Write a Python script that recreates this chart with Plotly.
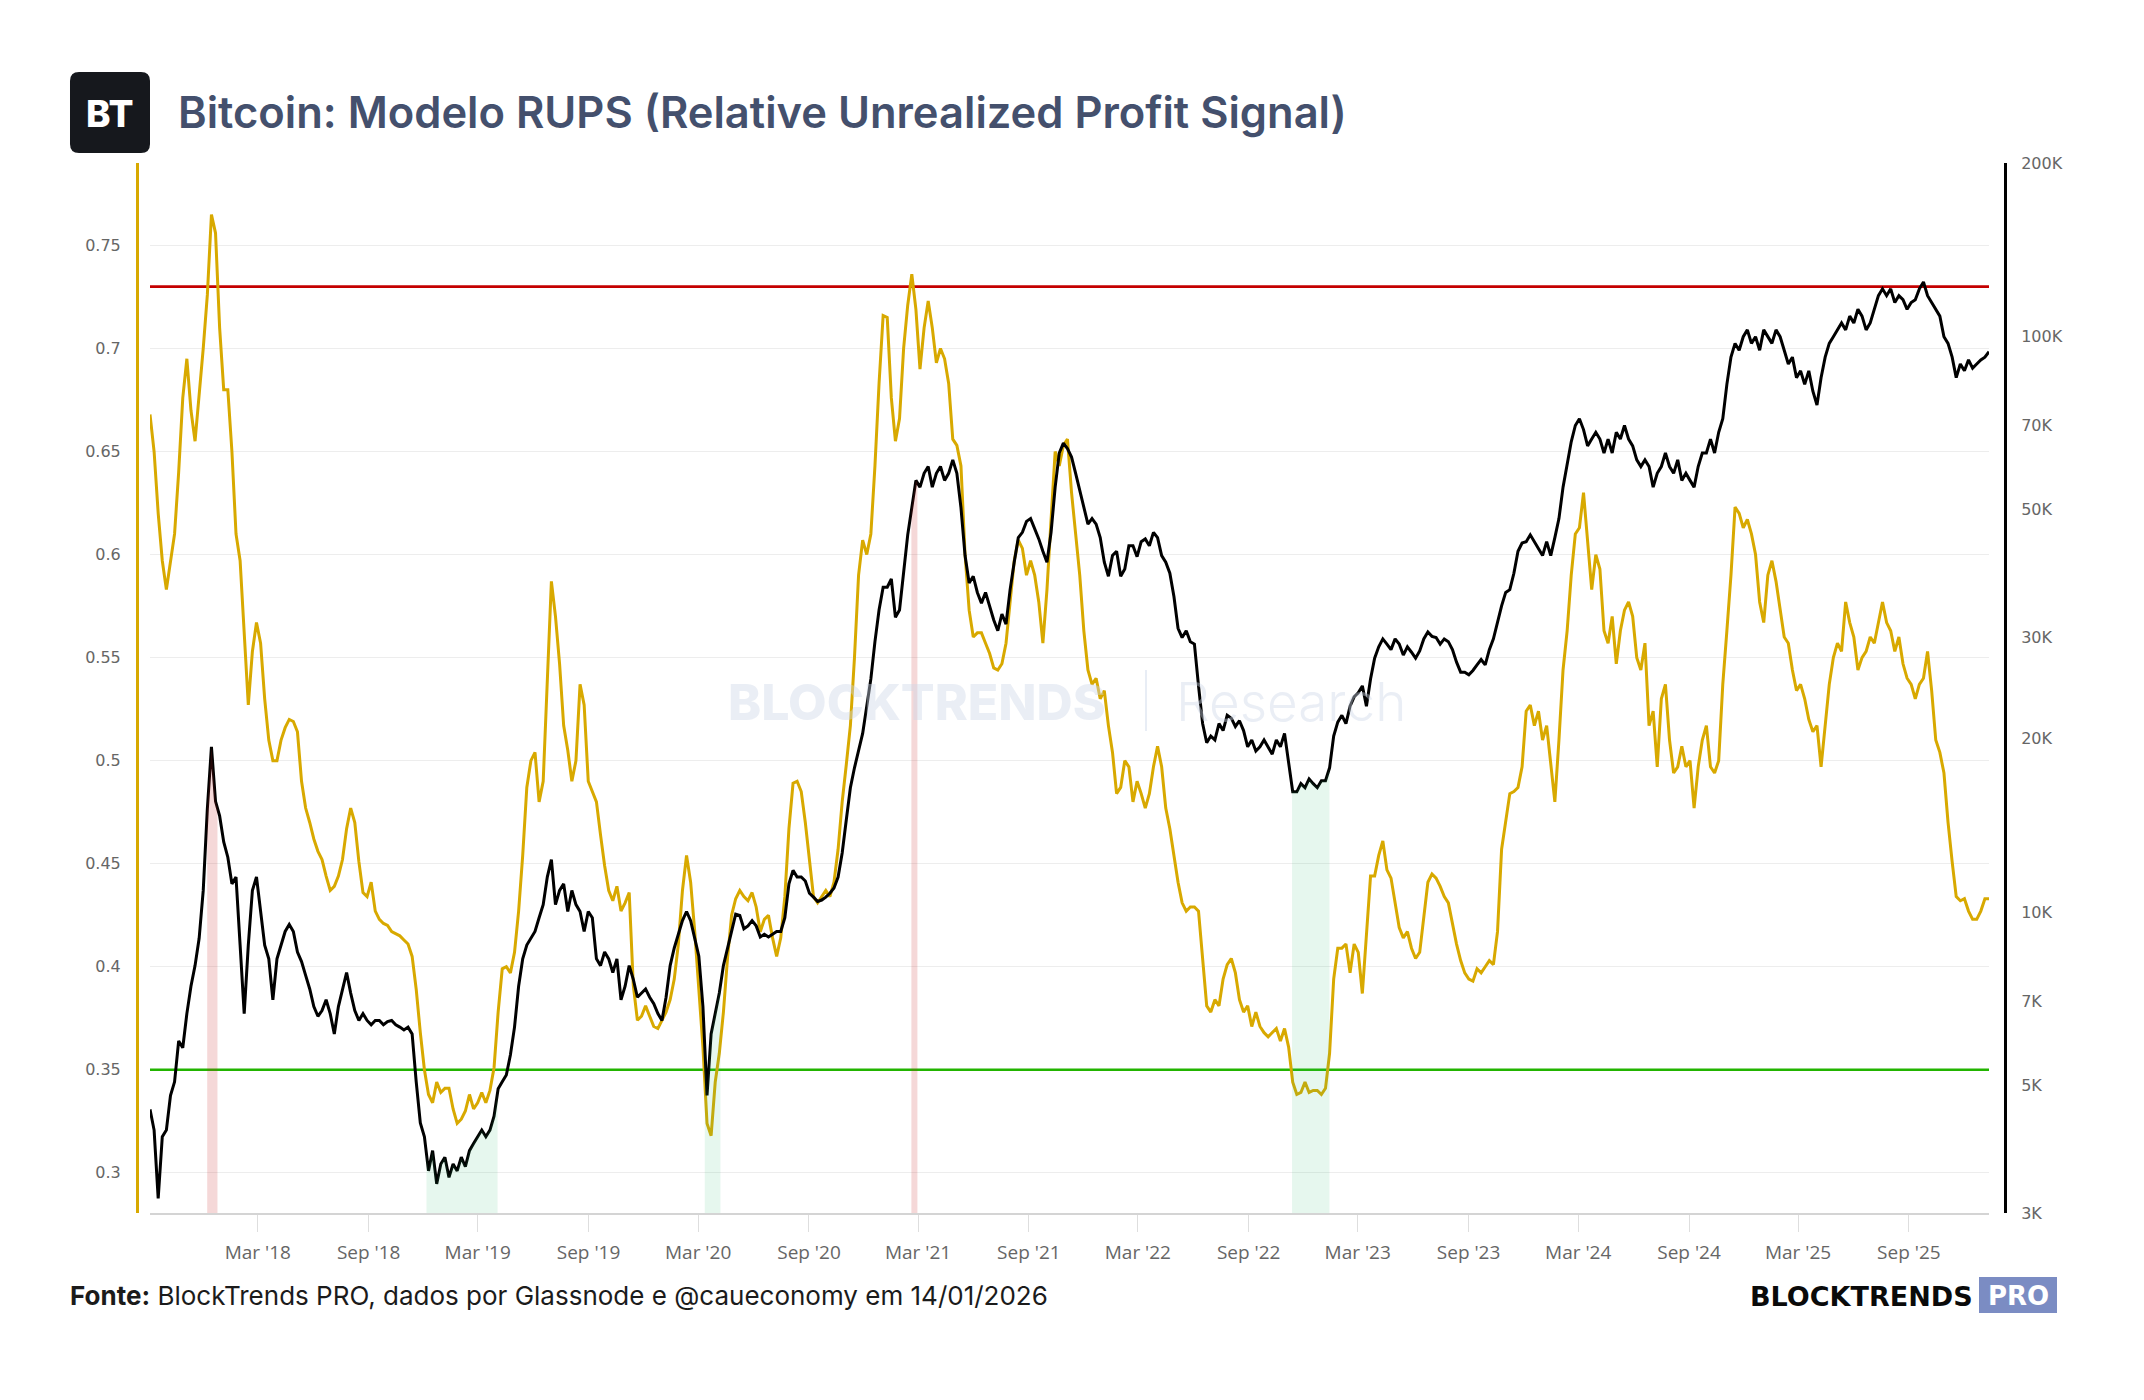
import numpy as np
import pandas as pd
import plotly.graph_objects as go

W, H = 2144, 1400

# ---------------- data ----------------
DATE_START = "2017-09-03"
DATE_END = "2026-01-12"

# Relative Unrealized Profit Signal (left axis), evenly sampled from DATE_START to DATE_END
RUPS = [
    0.668, 0.650, 0.620, 0.597, 0.583, 0.597, 0.610, 0.640, 0.676, 0.695,
    0.670, 0.655, 0.676, 0.700, 0.726, 0.765, 0.756, 0.710, 0.680, 0.680,
    0.650, 0.610, 0.597, 0.560, 0.527, 0.553, 0.567, 0.557, 0.530, 0.510,
    0.500, 0.500, 0.510, 0.516, 0.520, 0.519, 0.514, 0.490, 0.477, 0.470,
    0.462, 0.456, 0.452, 0.444, 0.437, 0.439, 0.444, 0.452, 0.467, 0.477,
    0.470, 0.451, 0.436, 0.434, 0.441, 0.427, 0.423, 0.421, 0.420, 0.417,
    0.416, 0.415, 0.413, 0.411, 0.405, 0.389, 0.368, 0.350, 0.338, 0.334,
    0.344, 0.339, 0.341, 0.341, 0.331, 0.324, 0.326, 0.330, 0.338, 0.331,
    0.334, 0.339, 0.334, 0.340, 0.351, 0.378, 0.399, 0.400, 0.397, 0.407,
    0.427, 0.454, 0.487, 0.500, 0.504, 0.480, 0.490, 0.537, 0.587, 0.570,
    0.547, 0.517, 0.505, 0.490, 0.500, 0.537, 0.527, 0.490, 0.485, 0.480,
    0.464, 0.449, 0.437, 0.432, 0.439, 0.427, 0.431, 0.436, 0.391, 0.374,
    0.376, 0.381, 0.376, 0.371, 0.370, 0.374, 0.378, 0.384, 0.394, 0.411,
    0.437, 0.454, 0.441, 0.417, 0.391, 0.361, 0.324, 0.318, 0.344, 0.358,
    0.378, 0.404, 0.425, 0.433, 0.437, 0.434, 0.432, 0.436, 0.429, 0.417,
    0.423, 0.425, 0.414, 0.405, 0.414, 0.434, 0.467, 0.489, 0.490, 0.485,
    0.470, 0.452, 0.434, 0.431, 0.434, 0.437, 0.434, 0.441, 0.457, 0.480,
    0.498, 0.517, 0.550, 0.590, 0.607, 0.600, 0.610, 0.643, 0.683, 0.716,
    0.715, 0.676, 0.655, 0.666, 0.700, 0.721, 0.736, 0.719, 0.690, 0.710,
    0.723, 0.710, 0.693, 0.700, 0.695, 0.683, 0.656, 0.653, 0.643, 0.600,
    0.573, 0.560, 0.562, 0.562, 0.557, 0.552, 0.545, 0.544, 0.547, 0.557,
    0.577, 0.597, 0.607, 0.603, 0.590, 0.597, 0.590, 0.577, 0.557, 0.583,
    0.617, 0.650, 0.643, 0.653, 0.656, 0.630, 0.610, 0.590, 0.563, 0.544,
    0.537, 0.540, 0.530, 0.534, 0.517, 0.504, 0.484, 0.487, 0.500, 0.497,
    0.480, 0.490, 0.484, 0.477, 0.484, 0.497, 0.507, 0.497, 0.477, 0.467,
    0.454, 0.441, 0.431, 0.427, 0.429, 0.429, 0.427, 0.404, 0.381, 0.378,
    0.384, 0.381, 0.394, 0.401, 0.404, 0.397, 0.384, 0.378, 0.381, 0.371,
    0.378, 0.371, 0.368, 0.366, 0.368, 0.370, 0.364, 0.370, 0.361, 0.344,
    0.338, 0.339, 0.344, 0.339, 0.340, 0.340, 0.338, 0.341, 0.358, 0.394,
    0.409, 0.409, 0.411, 0.397, 0.411, 0.407, 0.387, 0.417, 0.444, 0.444,
    0.454, 0.461, 0.447, 0.443, 0.431, 0.419, 0.414, 0.417, 0.409, 0.404,
    0.407, 0.423, 0.441, 0.445, 0.443, 0.439, 0.434, 0.431, 0.421, 0.411,
    0.403, 0.397, 0.394, 0.393, 0.399, 0.397, 0.400, 0.403, 0.401, 0.417,
    0.457, 0.470, 0.484, 0.485, 0.487, 0.497, 0.524, 0.527, 0.517, 0.524,
    0.510, 0.517, 0.500, 0.480, 0.510, 0.544, 0.563, 0.590, 0.610, 0.613,
    0.630, 0.607, 0.583, 0.600, 0.593, 0.563, 0.557, 0.570, 0.547, 0.563,
    0.573, 0.577, 0.570, 0.550, 0.544, 0.557, 0.517, 0.524, 0.497, 0.530,
    0.537, 0.510, 0.494, 0.497, 0.507, 0.497, 0.500, 0.477, 0.497, 0.510,
    0.517, 0.497, 0.494, 0.500, 0.537, 0.563, 0.590, 0.623, 0.620, 0.613,
    0.617, 0.610, 0.600, 0.577, 0.567, 0.590, 0.597, 0.587, 0.573, 0.560,
    0.557, 0.544, 0.534, 0.537, 0.530, 0.520, 0.514, 0.517, 0.497, 0.517,
    0.537, 0.550, 0.557, 0.553, 0.577, 0.567, 0.560, 0.544, 0.550, 0.553,
    0.560, 0.557, 0.567, 0.577, 0.567, 0.563, 0.553, 0.560, 0.547, 0.540,
    0.537, 0.530, 0.537, 0.540, 0.553, 0.534, 0.510, 0.504, 0.494, 0.470,
    0.451, 0.434, 0.432, 0.433, 0.427, 0.423, 0.423, 0.427, 0.433, 0.433,
]

# Bitcoin price in USD (right, log axis), same sampling
BTC_PRICE = [
    4540, 4180, 3180, 4070, 4180, 4800, 5070, 5970, 5810, 6660,
    7430, 8070, 9000, 10900, 15100, 19360, 15570, 14690, 13230, 12450,
    11190, 11500, 8760, 6660, 8760, 10900, 11500, 10020, 8760, 8290,
    7040, 8290, 8760, 9250, 9510, 9250, 8520, 8200, 7760, 7350,
    6850, 6590, 6740, 7040, 6660, 6140, 6850, 7350, 7850, 7230,
    6740, 6480, 6660, 6480, 6370, 6480, 6480, 6370, 6450, 6480,
    6370, 6310, 6240, 6310, 6140, 5070, 4300, 4070, 3550, 3850,
    3370, 3650, 3750, 3460, 3650, 3550, 3750, 3610, 3850, 3960,
    4070, 4180, 4070, 4180, 4420, 4930, 5070, 5210, 5650, 6310,
    7430, 8290, 8760, 9000, 9250, 9770, 10300, 11500, 12330, 10300,
    10900, 11190, 10020, 10900, 10300, 10020, 9250, 10020, 9770, 8290,
    8070, 8520, 8290, 7850, 8290, 7040, 7430, 8070, 7640, 7110,
    7230, 7350, 7110, 6930, 6660, 6480, 7110, 8070, 8660, 9150,
    9660, 10020, 9660, 9000, 8380, 6850, 4800, 6140, 6660, 7230,
    8070, 8660, 9350, 9910, 9860, 9350, 9460, 9660, 9460, 9050,
    9150, 9050, 9150, 9250, 9250, 9770, 11190, 11810, 11500, 11500,
    11320, 10780, 10610, 10430, 10490, 10610, 10780, 11010, 11500, 12660,
    14450, 16440, 17800, 19040, 20430, 22770, 25400, 29480, 33470, 36650,
    36650, 37880, 32500, 33470, 38760, 45200, 50400, 56200, 54700, 57800,
    59400, 54700, 57800, 59400, 56200, 57800, 61000, 57800, 50400, 41600,
    37270, 38300, 35900, 34400, 35900, 34020, 32150, 30800, 32930, 31620,
    36300, 40500, 44700, 45650, 47700, 48230, 46410, 44470, 42330, 40500,
    45650, 54700, 62700, 65240, 63810, 61700, 57800, 54090, 50400, 47180,
    48230, 47180, 44700, 40500, 38300, 41600, 42330, 38300, 39410, 43260,
    43260, 41420, 43980, 44470, 43260, 45650, 44700, 41600, 40500, 38760,
    35320, 31100, 29970, 30800, 29480, 29200, 24700, 21250, 19680, 20210,
    19900, 21250, 20660, 21960, 21710, 21000, 21490, 20660, 19360, 19900,
    19040, 19360, 19900, 19360, 18800, 19900, 19360, 20430, 18290, 16170,
    16170, 16710, 16440, 17030, 16710, 16440, 16900, 16900, 17800, 20210,
    21370, 21960, 21250, 22770, 23650, 24030, 24700, 22770, 25400, 27600,
    28880, 29810, 29200, 28560, 29810, 29200, 27940, 28880, 28260, 27600,
    28410, 29810, 30640, 30120, 29970, 29200, 29810, 29480, 28560, 27160,
    26100, 26100, 25820, 26270, 26860, 27450, 26860, 28560, 29810, 31980,
    34020, 35900, 36300, 38760, 42330, 43740, 43980, 45200, 43980, 42800,
    41600, 43980, 41600, 44700, 48230, 54700, 60050, 65570, 70000, 71900,
    68860, 64510, 66300, 68110, 66300, 62700, 66300, 62700, 68110, 66300,
    70000, 66300, 64510, 61000, 59400, 61000, 59400, 54700, 57800, 59400,
    62700, 59400, 57800, 61000, 56200, 57800, 56200, 54700, 59400, 62700,
    62700, 66300, 62700, 68110, 71900, 82500, 92000, 97200, 94570, 99830,
    102600, 97200, 99830, 94570, 102600, 99830, 97200, 102600, 99830, 94570,
    89520, 92000, 84750, 87100, 82500, 87100, 80270, 75990, 84750, 92000,
    97200, 99830, 102600, 105470, 102600, 108400, 105470, 111410, 108400, 102600,
    105470, 111410, 117640, 120900, 117640, 120900, 114500, 117640, 115760, 111410,
    114500, 115760, 120900, 124250, 117640, 114500, 111410, 108400, 99830, 97200,
    92000, 84750, 89520, 87100, 91000, 88060, 89520, 91000, 92000, 94030,
]

TOP_LEVEL = 0.73      # red threshold
BOTTOM_LEVEL = 0.35   # green threshold

RED_PERIODS = [("2017-12-07", "2017-12-24"), ("2021-02-18", "2021-02-28")]
GREEN_PERIODS = [("2018-12-06", "2019-04-03"), ("2020-03-12", "2020-04-07"),
                 ("2022-11-12", "2023-01-13")]

X_TICK_DATES = ["2018-03-01", "2018-09-01", "2019-03-01", "2019-09-01", "2020-03-01",
                "2020-09-01", "2021-03-01", "2021-09-01", "2022-03-01", "2022-09-01",
                "2023-03-01", "2023-09-01", "2024-03-01", "2024-09-01", "2025-03-01",
                "2025-09-01"]
X_TICK_LABELS = ["Mar '18", "Sep '18", "Mar '19", "Sep '19", "Mar '20", "Sep '20",
                 "Mar '21", "Sep '21", "Mar '22", "Sep '22", "Mar '23", "Sep '23",
                 "Mar '24", "Sep '24", "Mar '25", "Sep '25"]

RUPS_TICKS = [0.3, 0.35, 0.4, 0.45, 0.5, 0.55, 0.6, 0.65, 0.7, 0.75]
RUPS_LABELS = ["0.3", "0.35", "0.4", "0.45", "0.5", "0.55", "0.6", "0.65", "0.7", "0.75"]

PRICE_TICKS = [3000, 5000, 7000, 10000, 20000, 30000, 50000, 70000, 100000, 200000]
PRICE_LABELS = ["3K", "5K", "7K", "10K", "20K", "30K", "50K", "70K", "100K", "200K"]

# ---------------- styling / layout constants ----------------
GOLD = "#d8a900"
RUPS_RANGE = [0.2805, 0.790]
PRICE_MIN, PRICE_MAX = 3000, 200000

PLOT_L, PLOT_R = 150, 1989
PLOT_T, PLOT_B = 163, 1213


def px(x):
    return x / W


def py(y):
    return 1 - y / H


rups_dates = pd.date_range(DATE_START, DATE_END, periods=len(RUPS)).round("s")
price_dates = pd.date_range(DATE_START, DATE_END, periods=len(BTC_PRICE)).round("s")
prices = np.array(BTC_PRICE, dtype=float)

fig = go.Figure()

# threshold lines (drawn first so they sit under the series)
fig.add_trace(go.Scatter(x=[DATE_START, DATE_END], y=[TOP_LEVEL, TOP_LEVEL], mode="lines",
                         yaxis="y", line=dict(color="#c40000", width=2.6), hoverinfo="skip"))
fig.add_trace(go.Scatter(x=[DATE_START, DATE_END], y=[BOTTOM_LEVEL, BOTTOM_LEVEL], mode="lines",
                         yaxis="y", line=dict(color="#22b400", width=2.6), hoverinfo="skip"))

fig.add_trace(go.Scatter(x=rups_dates, y=RUPS, mode="lines", yaxis="y",
                         line=dict(color=GOLD, width=3), hoverinfo="skip"))
fig.add_trace(go.Scatter(x=price_dates, y=prices, mode="lines", yaxis="y2",
                         line=dict(color="#000000", width=3), hoverinfo="skip"))


def band_trace(start, end, color):
    s, e = pd.Timestamp(start), pd.Timestamp(end)
    t = price_dates.asi8.astype(float)
    logp = np.log10(prices)
    ps = 10 ** np.interp(float(s.value), t, logp)
    pe = 10 ** np.interp(float(e.value), t, logp)
    mask = (price_dates > s) & (price_dates < e)
    xs = [s] + list(price_dates[mask]) + [e, e, s]
    ys = [ps] + list(prices[mask]) + [pe, PRICE_MIN, PRICE_MIN]
    return go.Scatter(x=xs, y=ys, yaxis="y2", mode="lines", fill="toself",
                      fillcolor=color, line=dict(width=0), hoverinfo="skip")


for s, e in RED_PERIODS:
    fig.add_trace(band_trace(s, e, "rgba(200,40,40,0.18)"))
for s, e in GREEN_PERIODS:
    fig.add_trace(band_trace(s, e, "rgba(47,188,113,0.12)"))


def rounded_rect(x0, y0, x1, y1, r):
    X = lambda v: f"{px(v):.6f}"
    Y = lambda v: f"{py(v):.6f}"
    return (f"M {X(x0 + r)},{Y(y0)} L {X(x1 - r)},{Y(y0)} Q {X(x1)},{Y(y0)} {X(x1)},{Y(y0 + r)} "
            f"L {X(x1)},{Y(y1 - r)} Q {X(x1)},{Y(y1)} {X(x1 - r)},{Y(y1)} "
            f"L {X(x0 + r)},{Y(y1)} Q {X(x0)},{Y(y1)} {X(x0)},{Y(y1 - r)} "
            f"L {X(x0)},{Y(y0 + r)} Q {X(x0)},{Y(y0)} {X(x0 + r)},{Y(y0)} Z")


shapes = [
    dict(type="path", xref="paper", yref="paper", path=rounded_rect(70, 72, 150, 153, 9),
         fillcolor="#16181d", line=dict(width=0)),
    dict(type="rect", xref="paper", yref="paper", x0=px(1979), x1=px(2057),
         y0=py(1313), y1=py(1277), fillcolor="#7b8cc3", line=dict(width=0)),
    # watermark separator
    dict(type="line", xref="paper", yref="paper", x0=px(1146), x1=px(1146),
         y0=py(731), y1=py(670), line=dict(color="rgba(205,214,232,0.45)", width=2)),
]

annotations = [
    dict(text="Bitcoin: Modelo RUPS (Relative Unrealized Profit Signal)", xref="paper", yref="paper",
         x=px(176), y=py(112), xanchor="left", yanchor="middle", showarrow=False,
         font=dict(family="Inter", size=43.5, color="#44506d", weight=600)),
    dict(text="BT", xref="paper", yref="paper", x=px(110), y=py(113), xanchor="center",
         yanchor="middle", showarrow=False,
         font=dict(family="Inter", size=37, color="#ffffff", weight=800)),
    dict(text="<b>Fonte:</b> BlockTrends PRO, dados por Glassnode e @caueconomy em 14/01/2026",
         xref="paper", yref="paper", x=px(68), y=py(1295), xanchor="left", yanchor="middle",
         showarrow=False, font=dict(family="Inter", size=26, color="#1b1b1b")),
    dict(text="BLOCKTRENDS", xref="paper", yref="paper", x=px(1975), y=py(1296),
         xanchor="right", yanchor="middle", showarrow=False,
         font=dict(family="DejaVu Sans", size=27, color="#0a0a0a", weight=700)),
    dict(text="PRO", xref="paper", yref="paper", x=px(2018), y=py(1296),
         xanchor="center", yanchor="middle", showarrow=False,
         font=dict(family="DejaVu Sans", size=26, color="#ffffff", weight=700)),
    # watermark
    dict(text="BLOCKTRENDS", xref="paper", yref="paper", x=px(917), y=py(702),
         xanchor="center", yanchor="middle", showarrow=False,
         font=dict(family="Inter", size=50, color="rgba(205,214,232,0.42)", weight=800)),
    dict(text="Research", xref="paper", yref="paper", x=px(1291), y=py(702),
         xanchor="center", yanchor="middle", showarrow=False,
         font=dict(family="Inter", size=53, color="rgba(205,214,232,0.42)", weight=300)),
]

fig.update_layout(
    width=W, height=H, autosize=False,
    margin=dict(l=0, r=0, t=0, b=0, pad=0),
    paper_bgcolor="#ffffff", plot_bgcolor="#ffffff",
    showlegend=False,
    shapes=shapes, annotations=annotations,
    xaxis=dict(
        domain=[px(PLOT_L), px(PLOT_R)], type="date",
        range=[DATE_START, DATE_END],
        tickvals=X_TICK_DATES, ticktext=X_TICK_LABELS,
        showgrid=False, zeroline=False,
        showline=True, linecolor="#d4d4d4", linewidth=2,
        ticks="outside", ticklen=17, tickwidth=1, tickcolor="#dedede",
        ticklabelstandoff=4,
        tickfont=dict(family="Open Sans", size=19, color="#666666"),
        automargin=False, anchor="y",
    ),
    yaxis=dict(
        domain=[py(PLOT_B), py(PLOT_T)], range=RUPS_RANGE,
        anchor="free", position=px(137), side="left",
        tickvals=RUPS_TICKS, ticktext=RUPS_LABELS,
        showgrid=True, gridcolor="#ededed", gridwidth=1, zeroline=False,
        showline=True, linecolor=GOLD, linewidth=3,
        ticks="", ticklabelstandoff=12,
        tickfont=dict(family="DejaVu Sans", size=16, color="#666666"),
        automargin=False,
    ),
    yaxis2=dict(
        domain=[py(PLOT_B), py(PLOT_T)], type="log",
        range=[np.log10(PRICE_MIN), np.log10(PRICE_MAX)],
        overlaying="y", anchor="free", position=px(2005), side="right",
        tickvals=PRICE_TICKS, ticktext=PRICE_LABELS,
        showgrid=False, zeroline=False,
        showline=True, linecolor="#000000", linewidth=3,
        ticks="", ticklabelstandoff=11,
        tickfont=dict(family="DejaVu Sans", size=16, color="#666666"),
        automargin=False,
    ),
)

fig.write_html("out.html")
